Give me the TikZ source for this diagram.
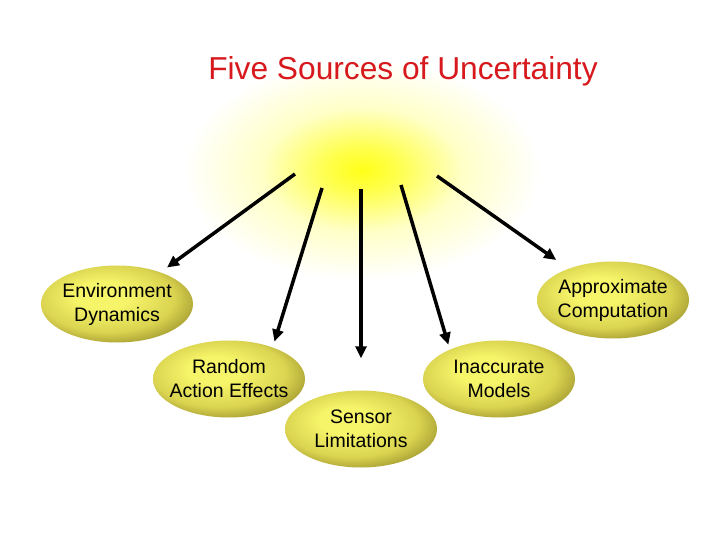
\documentclass[tikz,border=0pt]{standalone}
\usepackage{fontspec}
\setmainfont{Liberation Sans}
\usepackage{xcolor}
\usetikzlibrary{shapes.geometric, arrows.meta}
\definecolor{titlered}{RGB}{215,25,30}
\definecolor{ovalhi}{RGB}{246,244,105}
\definecolor{ovalmid}{RGB}{218,212,80}
\definecolor{ovallo}{RGB}{145,135,38}
\pgfdeclareradialshading{glow}{\pgfpoint{0bp}{0bp}}{color(0bp)=(yellow!90!white); color(5bp)=(yellow!70!white); color(14bp)=(yellow!22!white); color(25bp)=(white)}
\pgfdeclareradialshading{ovalshade}{\pgfpoint{-6bp}{7bp}}{color(0bp)=(ovalhi); color(9bp)=(ovalhi); color(22bp)=(ovalmid); color(33bp)=(ovallo); color(48bp)=(ovallo)}
\tikzset{
  oval/.style={ellipse, shade, shading=ovalshade, minimum width=152pt, minimum height=77pt, inner xsep=-6pt, align=center, font=\fontsize{19.5}{24}\selectfont},
  arrow/.style={-{Triangle[length=12pt,width=11pt]}, line width=3.5pt},
}

\begin{document}
\begin{tikzpicture}[x=1pt, y=-1pt]
    \useasboundingbox[fill=white] (0,0) rectangle (720,540);
    \shade[shading=glow] (362,170) ellipse [x radius=178pt, y radius=110pt];
    \node[text=titlered, font=\fontsize{31.7}{36}\selectfont] (title) at (403,71) {Five Sources of Uncertainty};
    % the five sources
    \node[oval] (env) at (117,304) {Environment\\Dynamics};
    \node[oval] (approx) at (613,300) {Approximate\\Computation};
    \node[oval] (rand) at (229,379) {Random\\Action Effects};
    \node[oval] (inacc) at (499,379) {Inaccurate\\Models};
    \node[oval] (sensor) at (361,429) {Sensor\\Limitations};
    % arrows out of the glow
    \coordinate (s1) at (295,174);
    \coordinate (s2) at (322,188);
    \coordinate (s3) at (361,189);
    \coordinate (s4) at (401,185);
    \coordinate (s5) at (437,176);
    \draw[arrow, shorten >=8pt] (s1) -- (env);
    \draw[arrow, shorten >=6pt] (s2) -- (rand.36);
    \draw[arrow, shorten >=32pt] (s3) -- (sensor.north);
    \draw[arrow, shorten >=5pt] (s4) -- (inacc.149);
    \draw[arrow, shorten >=15pt] (s5) -- (approx);
\end{tikzpicture}
\end{document}
